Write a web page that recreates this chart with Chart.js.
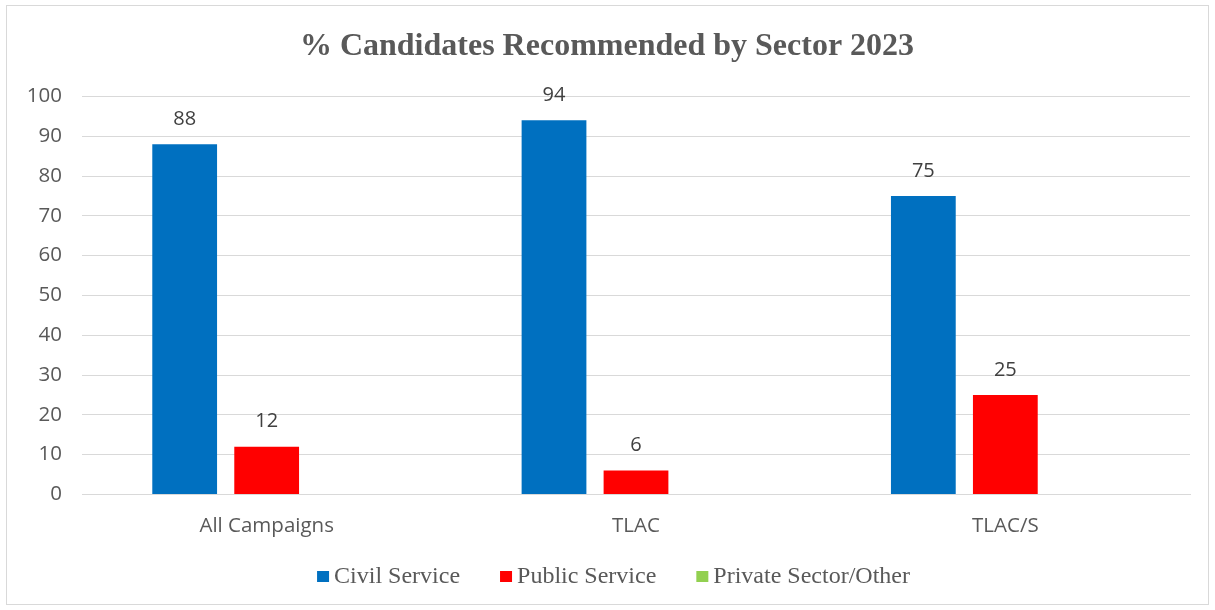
<!DOCTYPE html>
<html>
<head>
<meta charset="utf-8">
<script src="https://cdn.jsdelivr.net/npm/chart.js@4/dist/chart.umd.min.js"></script>
<style>
    body { margin: 0; background: #fff; }
    #wrap { width: 1215px; height: 610px; }
</style>
</head>
<body>
<div id="wrap"><canvas id="sectorChart" width="1215" height="610"></canvas></div>
<script>
const campaigns = ["All Campaigns", "TLAC", "TLAC/S"];
const civilService = [88, 94, 75];
const publicService = [12, 6, 25];
const privateSector = [null, null, null];
const yTicks = [0, 10, 20, 30, 40, 50, 60, 70, 80, 90, 100];

// frame around the whole chart
const framePlugin = {
    id: "frame",
    beforeDraw(chart) {
        let ctx = chart.ctx;
        ctx.save();
        ctx.fillStyle = "#ffffff";
        ctx.fillRect(0, 0, chart.width, chart.height);
        ctx.strokeStyle = "#d9d9d9";
        ctx.lineWidth = 1;
        ctx.strokeRect(6.5, 5.5, 1202, 599);
        ctx.restore();
    }
};

// value labels above each bar
const valueLabels = {
    id: "valueLabels",
    afterDatasetsDraw(chart) {
        let ctx = chart.ctx;
        ctx.save();
        ctx.font = "20px 'Open Sans'";
        ctx.fillStyle = "#404040";
        ctx.textAlign = "center";
        ctx.textBaseline = "middle";
        chart.data.datasets.forEach((ds, i) => {
            let meta = chart.getDatasetMeta(i);
            meta.data.forEach((bar, j) => {
                let v = ds.data[j];
                if (v === null || v === undefined) return;
                ctx.fillText(String(v), bar.x, bar.y - 25);
            });
        });
        ctx.restore();
    }
};

// legend row under the x axis: small square, tight gap, serif text
const sectorLegend = {
    id: "sectorLegend",
    afterDraw(chart) {
        let ctx = chart.ctx;
        let y = 577;
        let box = 12, gap = 5, spacing = 40;
        ctx.save();
        ctx.font = "24px 'Liberation Serif'";
        ctx.textBaseline = "middle";
        ctx.textAlign = "left";
        let items = chart.data.datasets.map(ds => ({
            text: ds.label,
            color: ds.backgroundColor,
            w: box + gap + ctx.measureText(ds.label).width
        }));
        let total = items.reduce((s, it) => s + it.w, 0) + spacing * (items.length - 1);
        let x = chart.width / 2 + 6 - total / 2;
        items.forEach(it => {
            ctx.fillStyle = it.color;
            ctx.fillRect(x, y - 6, box, 11);
            ctx.fillStyle = "#595959";
            ctx.fillText(it.text, x + box + gap, y);
            x += it.w + spacing;
        });
        ctx.restore();
    }
};

let ctx = document.getElementById("sectorChart").getContext("2d");

new Chart(ctx, {
    type: "bar",
    data: {
        labels: campaigns,
        datasets: [
            { label: "Civil Service", data: civilService, backgroundColor: "#0070C0" },
            { label: "Public Service", data: publicService, backgroundColor: "#FF0000" },
            { label: "Private Sector/Other", data: privateSector, backgroundColor: "#92D050" }
        ]
    },
    options: {
        responsive: false,
        animation: false,
        layout: { padding: { left: 24, right: 25, top: 0, bottom: 61 } },
        datasets: {
            bar: { categoryPercentage: 0.666, barPercentage: 0.79 }
        },
        plugins: {
            title: {
                display: true,
                text: "% Candidates Recommended by Sector 2023",
                color: "#595959",
                font: { family: "'Liberation Serif'", size: 32, weight: "bold" },
                padding: { top: 28, bottom: 30 }
            },
            legend: { display: false },
            tooltip: { enabled: false }
        },
        scales: {
            x: {
                grid: { display: false },
                border: { color: "#d9d9d9" },
                ticks: {
                    color: "#595959",
                    font: { family: "'Open Sans'", size: 20.5 },
                    padding: 11
                }
            },
            y: {
                min: 0,
                max: 100,
                afterFit(scale) { scale.width = 58; },
                afterBuildTicks(scale) { scale.ticks = yTicks.map(v => ({ value: v })); },
                grid: { color: "#d9d9d9", drawTicks: false },
                border: { display: false },
                ticks: {
                    color: "#595959",
                    font: { family: "'Open Sans'", size: 20.5 },
                    padding: 20
                }
            }
        }
    },
    plugins: [framePlugin, valueLabels, sectorLegend]
});
</script>
</body>
</html>
